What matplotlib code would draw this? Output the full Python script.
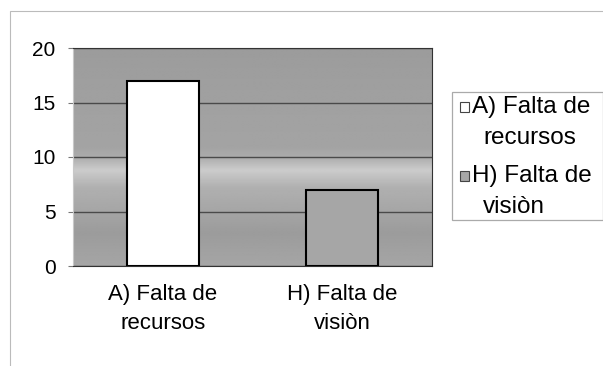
import numpy as np
import matplotlib.pyplot as plt
from matplotlib.patches import Rectangle

plt.rcParams["font.family"] = ["Liberation Sans", "DejaVu Sans"]

categorias = ["A) Falta de\nrecursos", "H) Falta de\nvisiòn"]
valores = [17, 7]
colores = ["#ffffff", "#a6a6a6"]
yticks = [0, 5, 10, 15, 20]

W, H = 603, 366
fig = plt.figure(figsize=(W / 100, H / 100), dpi=100, facecolor="white")
ax = fig.add_axes([73 / W, 1 - 266 / H, (432 - 73) / W, (266 - 48) / H])

# fondo gris con una banda clara horizontal, como el relleno del original
ys = np.linspace(0, 20, 200)
tono = np.interp(ys, [0, 1.5, 3, 5, 7.2, 8.8, 10, 11, 15, 20],
                 [0.65, 0.63, 0.61, 0.65, 0.69, 0.80, 0.67, 0.64, 0.63, 0.61])
ax.imshow(tono.reshape(-1, 1), cmap="gray", vmin=0, vmax=1, aspect="auto",
          extent=[-0.5, 1.5, 0, 20], origin="lower", interpolation="bilinear", zorder=0)

x = np.arange(len(categorias))
ax.bar(x, valores, width=0.4, color=colores, edgecolor="black", linewidth=1.5, zorder=3)

ax.set_xlim(-0.5, 1.5)
ax.set_ylim(0, 20)
ax.set_yticks(yticks)
ax.yaxis.grid(True, color="#4a4a4a", linewidth=1.0, zorder=1)
ax.set_axisbelow(True)
ax.set_xticks(x, categorias, fontsize=16, linespacing=1.5)
ax.tick_params(axis="x", length=0, pad=13)
ax.tick_params(axis="y", labelsize=15, length=3.5, color="#777777", pad=9)
for s in ["top", "right", "bottom"]:
    ax.spines[s].set_color("#333333")
ax.spines["left"].set_color("#c8c8c8")

# leyenda a la derecha (cortada por el borde, como en el original)
fig.patches.append(Rectangle((452 / W, 1 - 220 / H), (W - 452) / W, (220 - 92) / H,
                             transform=fig.transFigure, facecolor="white",
                             edgecolor="#aaaaaa", linewidth=0.9))
lineas = [l.split("\n") for l in categorias]
fila_y = [107, 176]
for c, (l1, l2), yy in zip(colores, lineas, fila_y):
    fig.patches.append(Rectangle((460 / W, 1 - (yy + 5) / H), 9 / W, 10 / H,
                                 transform=fig.transFigure, facecolor=c,
                                 edgecolor="#444444", linewidth=0.8))
    fig.text(472 / W, 1 - yy / H, l1, fontsize=17.5, va="center", ha="left")
    fig.text(483 / W, 1 - (yy + 31) / H, l2, fontsize=17.5, va="center", ha="left")

# marco exterior del gráfico
fig.patches.append(Rectangle((10 / W, -0.01), 1.0, 1 - 11 / H + 0.01, transform=fig.transFigure,
                             fill=False, edgecolor="#bbbbbb", linewidth=0.8))

fig.savefig("out.png", dpi=100, facecolor="white")
